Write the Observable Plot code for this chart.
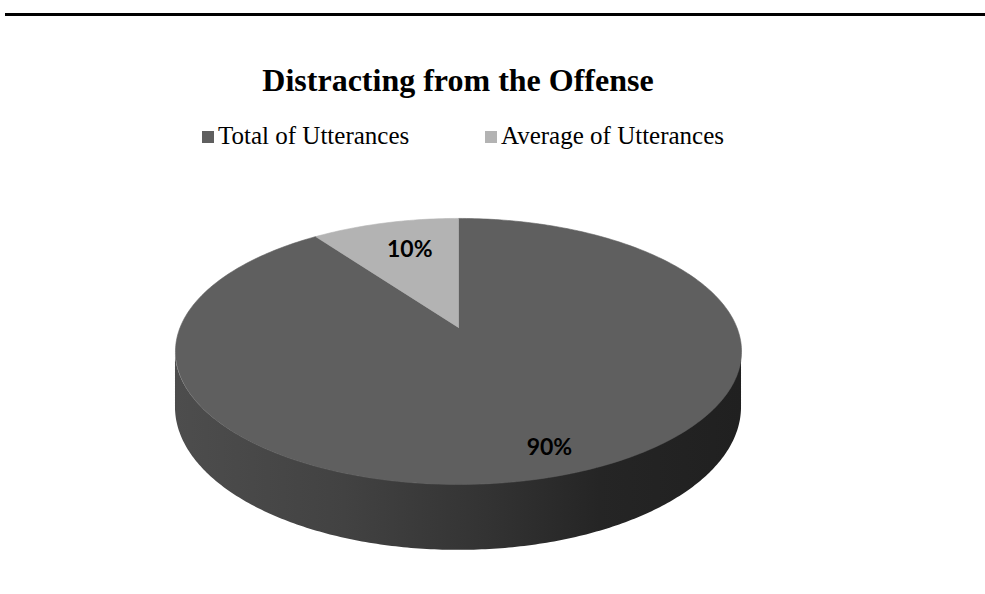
<!DOCTYPE html>
<html>
<head>
<meta charset="utf-8">
<script src="https://cdn.jsdelivr.net/npm/d3@7"></script>
<script src="https://cdn.jsdelivr.net/npm/@observablehq/plot@0.6"></script>
<style>
  html, body { margin: 0; padding: 0; background: #fff; }
  #page { position: relative; width: 985px; height: 594px; overflow: hidden; }
  #header { position: relative; width: 985px; height: 170px; }
  .rule { position: absolute; left: 5px; right: 0; top: 13px; height: 3px; background: #000; }
  .title { position: absolute; left: 0; width: 916px; top: 64px; text-align: center;
           font: bold 32px/32px "Liberation Serif", "Times New Roman", serif; color: #000; white-space: nowrap; }
  .leg { position: absolute; top: 123px; font: 25px/26px "Liberation Serif", "Times New Roman", serif; color: #000; white-space: nowrap; }
  .sw { position: absolute; width: 12px; height: 12px; }
</style>
</head>
<body>
<div id="page">
  <div id="header">
    <div class="rule"></div>
    <div class="title" id="title"></div>
    <div id="legend"></div>
  </div>
  <div id="chart"></div>
</div>
<script>
// ---- data ----
const title = "Distracting from the Offense";
const categories = ["Total of Utterances", "Average of Utterances"];
const values = [90, 10];
const labels = ["90%", "10%"];

// ---- styles / layout (not data) ----
const colors = ["#5f5f5f", "#b3b3b3"];
const legendX = [202, 485];          // swatch left positions
const labelRadius = [0.87, 0.70];    // radial fraction for data labels
const labelShift = [[3, -5], [5, -1]];
const persp = 0.18;                  // perspective strength (back is farther)
const depth = 0.42;                  // pie thickness in y units
const cx = 458, cyTop = 327 - 170, rx = 278.4, ry = 128.7;

document.getElementById("title").textContent = title;
const legend = document.getElementById("legend");
categories.forEach((c, i) => {
  const sw = document.createElement("div");
  sw.className = "sw";
  sw.style.left = legendX[i] + "px";
  sw.style.top = "131px";
  sw.style.background = colors[i];
  legend.appendChild(sw);
  const t = document.createElement("div");
  t.className = "leg";
  t.style.left = (legendX[i] + 16) + "px";
  t.textContent = c;
  legend.appendChild(t);
});

// projection of a point on the disk (u right, v back, z down-depth) to model coords
function proj(u, v, z = 0) {
  const w = 1 + persp * v;
  return {x: u / w, y: (v - depth * z) / w};
}

// pie layout (clockwise from 12 o'clock)
const arcs = d3.pie().sort(null).startAngle(0).endAngle(2 * Math.PI)(values);

// top-face slice polygons
const slicePts = [];
arcs.forEach((a, i) => {
  const n = Math.max(8, Math.ceil((a.endAngle - a.startAngle) / (Math.PI / 180)));
  slicePts.push({slice: i, ...proj(0, 0)});
  for (let j = 0; j <= n; j++) {
    const t = a.startAngle + (a.endAngle - a.startAngle) * j / n;
    slicePts.push({slice: i, ...proj(Math.sin(t), Math.cos(t))});
  }
  slicePts.push({slice: i, ...proj(0, 0)});
});

// side band along the front half of the rim
const sidePts = [];
const a0 = Math.PI + Math.asin(persp), a1 = 2 * Math.PI - Math.asin(persp);
for (let j = 0; j <= 240; j++) {
  const t = a0 + (a1 - a0) * j / 240;
  const u = Math.cos(t), v = Math.sin(t);
  const top = proj(u, v, 0), bot = proj(u, v, 1);
  sidePts.push({x: top.x, yt: top.y, yb: bot.y});
}

// labels
const labelPts = arcs.map((a, i) => {
  const m = (a.startAngle + a.endAngle) / 2, r = labelRadius[i];
  return {...proj(r * Math.sin(m), r * Math.cos(m)), text: labels[i], i};
});

const plot = Plot.plot({
  width: 985,
  height: 424,
  margin: 0,
  x: {domain: [-1, 1], range: [cx - rx, cx + rx], axis: null},
  y: {domain: [-1, 1], range: [cyTop + ry, cyTop - ry], axis: null},
  style: {background: "transparent"},
  marks: [
    Plot.areaY(sidePts, {x: "x", y1: "yt", y2: "yb", fill: "url(#sideGrad)", curve: "linear"}),
    ...arcs.map((a, i) =>
      Plot.line(slicePts.filter(d => d.slice === i), {x: "x", y: "y", fill: colors[i], stroke: colors[i], strokeWidth: 0.6, curve: "linear"})
    ),
    ...labelPts.map((d, i) =>
      Plot.text([d], {x: "x", y: "y", text: "text", dx: labelShift[i][0], dy: labelShift[i][1], fontSize: 23, fontWeight: "bold",
        fontFamily: "Lato, 'Open Sans', sans-serif", fill: "#000"})
    )
  ]
});

// gradient definition for the side
const svg = d3.select(plot);
const defs = svg.insert("defs", ":first-child");
const g = defs.append("linearGradient").attr("id", "sideGrad").attr("x1", "0").attr("x2", "1").attr("y1", "0").attr("y2", "0");
[[0, "#4d4d4d"], [0.3, "#424242"], [0.55, "#333333"], [0.75, "#252525"], [1, "#202020"]].forEach(([o, c]) =>
  g.append("stop").attr("offset", o).attr("stop-color", c));

document.getElementById("chart").appendChild(plot);
</script>
</body>
</html>
